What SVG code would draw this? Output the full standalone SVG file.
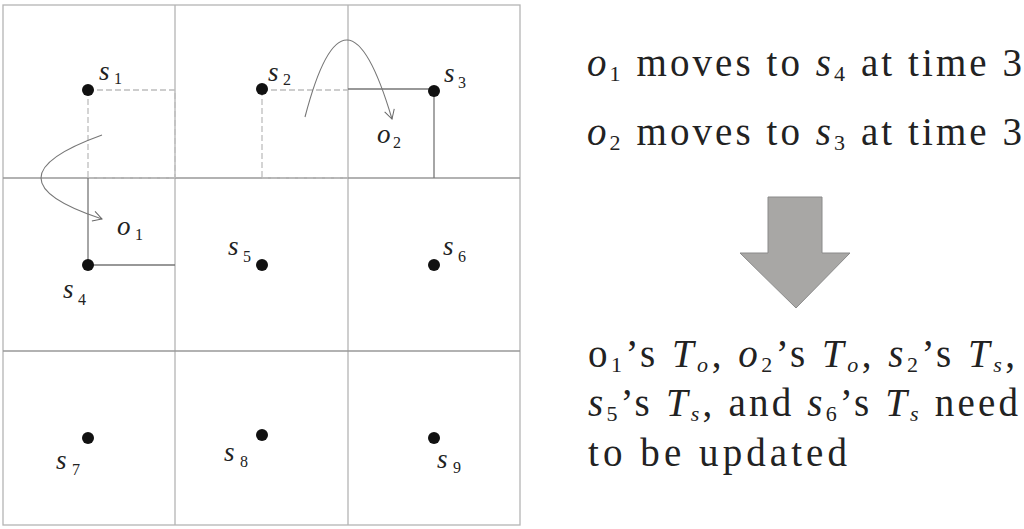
<svg xmlns="http://www.w3.org/2000/svg" width="1024" height="529" viewBox="0 0 1024 529">
<style>
.grid{stroke:#b4b4b4;stroke-width:1.3;fill:none}
.gridh{stroke:#999;stroke-width:1.5;fill:none}
.dash{stroke:#bdbdbd;stroke-width:1.3;stroke-dasharray:6,3;fill:none}
.solid{stroke:#777;stroke-width:1.3;fill:none}
.arc{stroke:#777;stroke-width:1.1;fill:none;marker-end:url(#open)}
.dot{fill:#111}
text{font-family:'Liberation Serif',serif !important}
.lbl{font-size:27px;font-style:italic;fill:#222}
.sub{font-size:16px;fill:#222}
.txt{font-size:39px;fill:#222}
.it{font-style:italic}
.sb{font-size:22px}
</style>
<defs>
<marker id="open" markerWidth="12" markerHeight="12" refX="10" refY="6" orient="auto" markerUnits="userSpaceOnUse">
<path d="M1,1 L10,6 L1,11" fill="none" stroke="#666" stroke-width="1"/>
</marker>
</defs>
<g id="grid">
<rect x="3" y="5" width="517" height="520" class="grid" stroke="#c8c8c8"/>
<line x1="175" y1="5" x2="175" y2="525" class="grid"/>
<line x1="348" y1="5" x2="348" y2="525" class="grid"/>
<line x1="3" y1="178" x2="520" y2="178" class="gridh"/>
<line x1="3" y1="351" x2="520" y2="351" class="gridh"/>
</g>
<g id="connectors">
<path d="M88,90 H175 V178 M88,90 V178" class="dash"/>
<path d="M88,178 H175" class="dash" stroke="#999"/>
<path d="M88,178 V265 H175" class="solid"/>
<path d="M262,90 H348 M262,90 V178" class="dash"/>
<path d="M262,178 H348" class="dash" stroke="#999"/>
<path d="M348,89 H434 V178" class="solid"/>
<path d="M102,135 Q-20,179 102,219" class="arc"/>
<path d="M305,117 Q345.5,-38 392,119" class="arc"/>
</g>
<g id="s1"><ellipse cx="88" cy="90" rx="6" ry="6" class="dot"/><text x="99" y="80" class="lbl" style="font-family:'Liberation Serif',serif !important">s</text><text x="114" y="84" class="sub" style="font-family:'Liberation Serif',serif !important">1</text></g>
<g id="s2"><ellipse cx="262" cy="89" rx="6" ry="6" class="dot"/><text x="268" y="81" class="lbl" style="font-family:'Liberation Serif',serif !important">s</text><text x="283" y="85" class="sub" style="font-family:'Liberation Serif',serif !important">2</text></g>
<g id="s3"><ellipse cx="434" cy="91" rx="6" ry="6" class="dot"/><text x="444" y="82" class="lbl" style="font-family:'Liberation Serif',serif !important">s</text><text x="458" y="88" class="sub" style="font-family:'Liberation Serif',serif !important">3</text></g>
<g id="s4"><ellipse cx="88" cy="265" rx="6" ry="6" class="dot"/><text x="63" y="298" class="lbl" style="font-family:'Liberation Serif',serif !important">s</text><text x="78" y="305" class="sub" style="font-family:'Liberation Serif',serif !important">4</text></g>
<g id="s5"><ellipse cx="262" cy="265" rx="6" ry="6" class="dot"/><text x="228" y="255" class="lbl" style="font-family:'Liberation Serif',serif !important">s</text><text x="243" y="262" class="sub" style="font-family:'Liberation Serif',serif !important">5</text></g>
<g id="s6"><ellipse cx="434" cy="265" rx="6" ry="6" class="dot"/><text x="443" y="255" class="lbl" style="font-family:'Liberation Serif',serif !important">s</text><text x="458" y="262" class="sub" style="font-family:'Liberation Serif',serif !important">6</text></g>
<g id="s7"><ellipse cx="88" cy="438" rx="6" ry="6" class="dot"/><text x="56" y="469" class="lbl" style="font-family:'Liberation Serif',serif !important">s</text><text x="72" y="475" class="sub" style="font-family:'Liberation Serif',serif !important">7</text></g>
<g id="s8"><ellipse cx="262" cy="435" rx="6" ry="6" class="dot"/><text x="224" y="461" class="lbl" style="font-family:'Liberation Serif',serif !important">s</text><text x="240" y="467" class="sub" style="font-family:'Liberation Serif',serif !important">8</text></g>
<g id="s9"><ellipse cx="434" cy="438" rx="6" ry="6" class="dot"/><text x="437" y="468" class="lbl" style="font-family:'Liberation Serif',serif !important">s</text><text x="453" y="473" class="sub" style="font-family:'Liberation Serif',serif !important">9</text></g>
<g id="o1"><text x="117" y="235" class="lbl" style="font-family:'Liberation Serif',serif !important">o</text><text x="135" y="240" class="sub" style="font-family:'Liberation Serif',serif !important">1</text></g>
<g id="o2"><text x="377" y="143" class="lbl" style="font-family:'Liberation Serif',serif !important">o</text><text x="393" y="148" class="sub" style="font-family:'Liberation Serif',serif !important">2</text></g>
<g id="event-text">
<text x="587" y="76" class="txt" style="font-family:'Liberation Serif',serif !important" textLength="435" lengthAdjust="spacing"><tspan class="it">o</tspan><tspan class="sb" dy="5">1</tspan><tspan dy="-5"> moves to </tspan><tspan class="it">s</tspan><tspan class="sb" dy="5">4</tspan><tspan dy="-5"> at time 3</tspan></text>
<text x="587" y="145" class="txt" style="font-family:'Liberation Serif',serif !important" textLength="435" lengthAdjust="spacing"><tspan class="it">o</tspan><tspan class="sb" dy="5">2</tspan><tspan dy="-5"> moves to </tspan><tspan class="it">s</tspan><tspan class="sb" dy="5">3</tspan><tspan dy="-5"> at time 3</tspan></text>
</g>
<g id="result-text">
<text x="588" y="367" class="txt" style="font-family:'Liberation Serif',serif !important" textLength="427" lengthAdjust="spacing">o<tspan class="sb" dy="5">1</tspan><tspan dy="-5">’s </tspan><tspan class="it">T</tspan><tspan class="sb it" dy="5">o</tspan><tspan dy="-5">, </tspan><tspan class="it">o</tspan><tspan class="sb" dy="5">2</tspan><tspan dy="-5">’s </tspan><tspan class="it">T</tspan><tspan class="sb it" dy="5">o</tspan><tspan dy="-5">, </tspan><tspan class="it">s</tspan><tspan class="sb" dy="5">2</tspan><tspan dy="-5">’s </tspan><tspan class="it">T</tspan><tspan class="sb it" dy="5">s</tspan><tspan dy="-5">,</tspan></text>
<text x="588" y="416" class="txt" style="font-family:'Liberation Serif',serif !important" textLength="430" lengthAdjust="spacing"><tspan class="it">s</tspan><tspan class="sb" dy="5">5</tspan><tspan dy="-5">’s </tspan><tspan class="it">T</tspan><tspan class="sb it" dy="5">s</tspan><tspan dy="-5">, and </tspan><tspan class="it">s</tspan><tspan class="sb" dy="5">6</tspan><tspan dy="-5">’s </tspan><tspan class="it">T</tspan><tspan class="sb it" dy="5">s</tspan><tspan dy="-5"> need</tspan></text>
<text x="588" y="466" class="txt" style="font-family:'Liberation Serif',serif !important" textLength="259" lengthAdjust="spacing">to be updated</text>
</g>
<g id="arrow">
<path d="M768,197 H822 V253 H850 L796,308 L740,253 H768 Z" fill="#a8a7a5" stroke="#8a8a8a" stroke-width="1"/>
</g>
</svg>
